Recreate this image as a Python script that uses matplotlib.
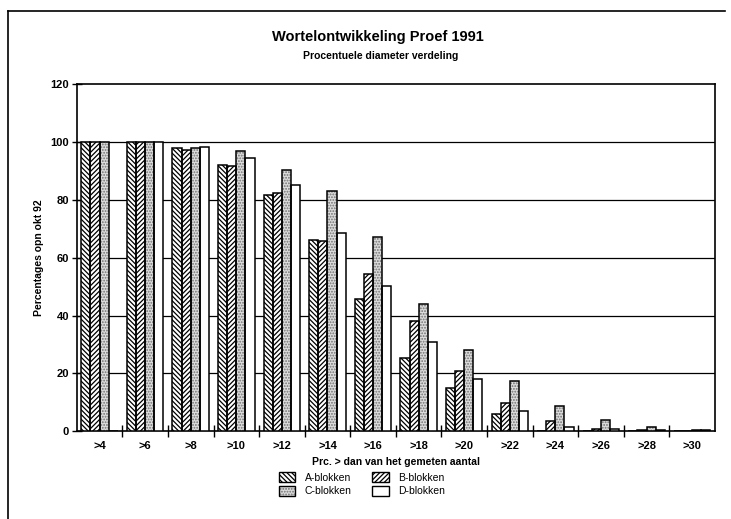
import matplotlib
matplotlib.use("Agg")
import matplotlib.pyplot as plt
import numpy as np
from matplotlib.lines import Line2D
from matplotlib.patches import Patch

plt.rcParams['font.family'] = ['Liberation Sans', 'DejaVu Sans']
plt.rcParams['hatch.linewidth'] = 0.9

categories = ['>4', '>6', '>8', '>10', '>12', '>14', '>16', '>18', '>20',
              '>22', '>24', '>26', '>28', '>30']
series_names = ['A-blokken', 'B-blokken', 'C-blokken', 'D-blokken']
A = [100, 100, 97.8, 92.0, 81.7, 66.1, 45.8, 25.5, 14.8, 6.0, 0.0, 0.0, 0.0, 0.0]
B = [100, 100, 97.3, 91.8, 82.3, 65.7, 54.5, 38.0, 21.0, 9.8, 3.5, 0.9, 0.5, 0.0]
C = [100, 100, 98.0, 96.7, 90.4, 82.9, 67.0, 44.0, 28.0, 17.5, 8.7, 4.0, 1.5, 0.5]
D = [0, 100, 98.3, 94.4, 85.2, 68.7, 50.1, 31.0, 18.0, 7.0, 1.6, 0.9, 0.3, 0.5]
values = [A, B, C, D]
yticks = [0, 20, 40, 60, 80, 100, 120]

faces = ['white', 'white', '#dcdcdc', 'white']
hatches = ['\\\\\\\\\\\\\\', '///////', '......', None]
hatch_cols = ['black', 'black', '#707070', 'black']

fig = plt.figure(figsize=(7.31, 5.19), dpi=100)
ax = fig.add_axes([0.105, 0.169, 0.873, 0.669])

x = np.arange(len(categories))
w = 0.2
for i, (vals, fc, h, hc) in enumerate(zip(values, faces, hatches, hatch_cols)):
    pos = x + (i - 1.5) * w
    # fill + hatch
    ax.bar(pos, vals, width=w, facecolor=fc, edgecolor=hc, hatch=h,
           linewidth=0, zorder=3)
    # black outline
    ax.bar(pos, vals, width=w, facecolor='none', edgecolor='black',
           linewidth=1.1, zorder=4)

ax.set_xlim(-0.5, len(categories) - 0.5)
ax.set_ylim(0, 120)
ax.set_yticks(yticks)
ax.set_yticklabels([str(v) for v in yticks], fontsize=8, fontweight='bold')
ax.set_xticks(x)
ax.set_xticklabels(categories, fontsize=8, fontweight='bold')
ax.tick_params(axis='x', which='major', length=0, pad=7)
ax.set_xticks(np.arange(0.5, len(categories) - 0.5, 1.0), minor=True)
ax.tick_params(axis='x', which='minor', direction='inout', length=8, width=1)
ax.tick_params(axis='y', direction='inout', length=7, width=1, pad=2)
for s in ax.spines.values():
    s.set_linewidth(1.2)
for yv in yticks[1:-1]:
    ax.axhline(yv, color='black', linewidth=0.9, zorder=1)

ax.set_ylabel('Percentages opn okt 92', fontsize=7.5, fontweight='bold', labelpad=5)
ax.set_xlabel('Prc. > dan van het gemeten aantal', fontsize=7.5, fontweight='bold', labelpad=4)

fig.text(0.517, 0.928, 'Wortelontwikkeling Proef 1991', ha='center', va='center',
         fontsize=10.5, fontweight='bold')
fig.text(0.521, 0.893, 'Procentuele diameter verdeling', ha='center', va='center',
         fontsize=7.5, fontweight='bold')


def handle(fc, h, hc):
    return (Patch(facecolor=fc, edgecolor=hc, hatch=h, linewidth=0),
            Patch(facecolor='none', edgecolor='black', linewidth=1.0))


handles = [handle(fc, h, hc) for fc, h, hc in zip(faces, hatches, hatch_cols)]
order = [0, 2, 1, 3]
leg = fig.legend([handles[i] for i in order], [series_names[i] for i in order],
                 ncol=2, loc='upper center', bbox_to_anchor=(0.495, 0.102),
                 frameon=False, fontsize=7.5, handlelength=1.6, handleheight=1.0,
                 columnspacing=2.0, handletextpad=0.9, labelspacing=0.35,
                 borderpad=0.1)

# outer frame (left and top edges)
fig.add_artist(Line2D([0.011, 0.011], [0.0, 0.979], color='black', linewidth=1.2,
                      transform=fig.transFigure))
fig.add_artist(Line2D([0.011, 0.992], [0.979, 0.979], color='black', linewidth=1.2,
                      transform=fig.transFigure))

fig.savefig('out.png', dpi=100)
